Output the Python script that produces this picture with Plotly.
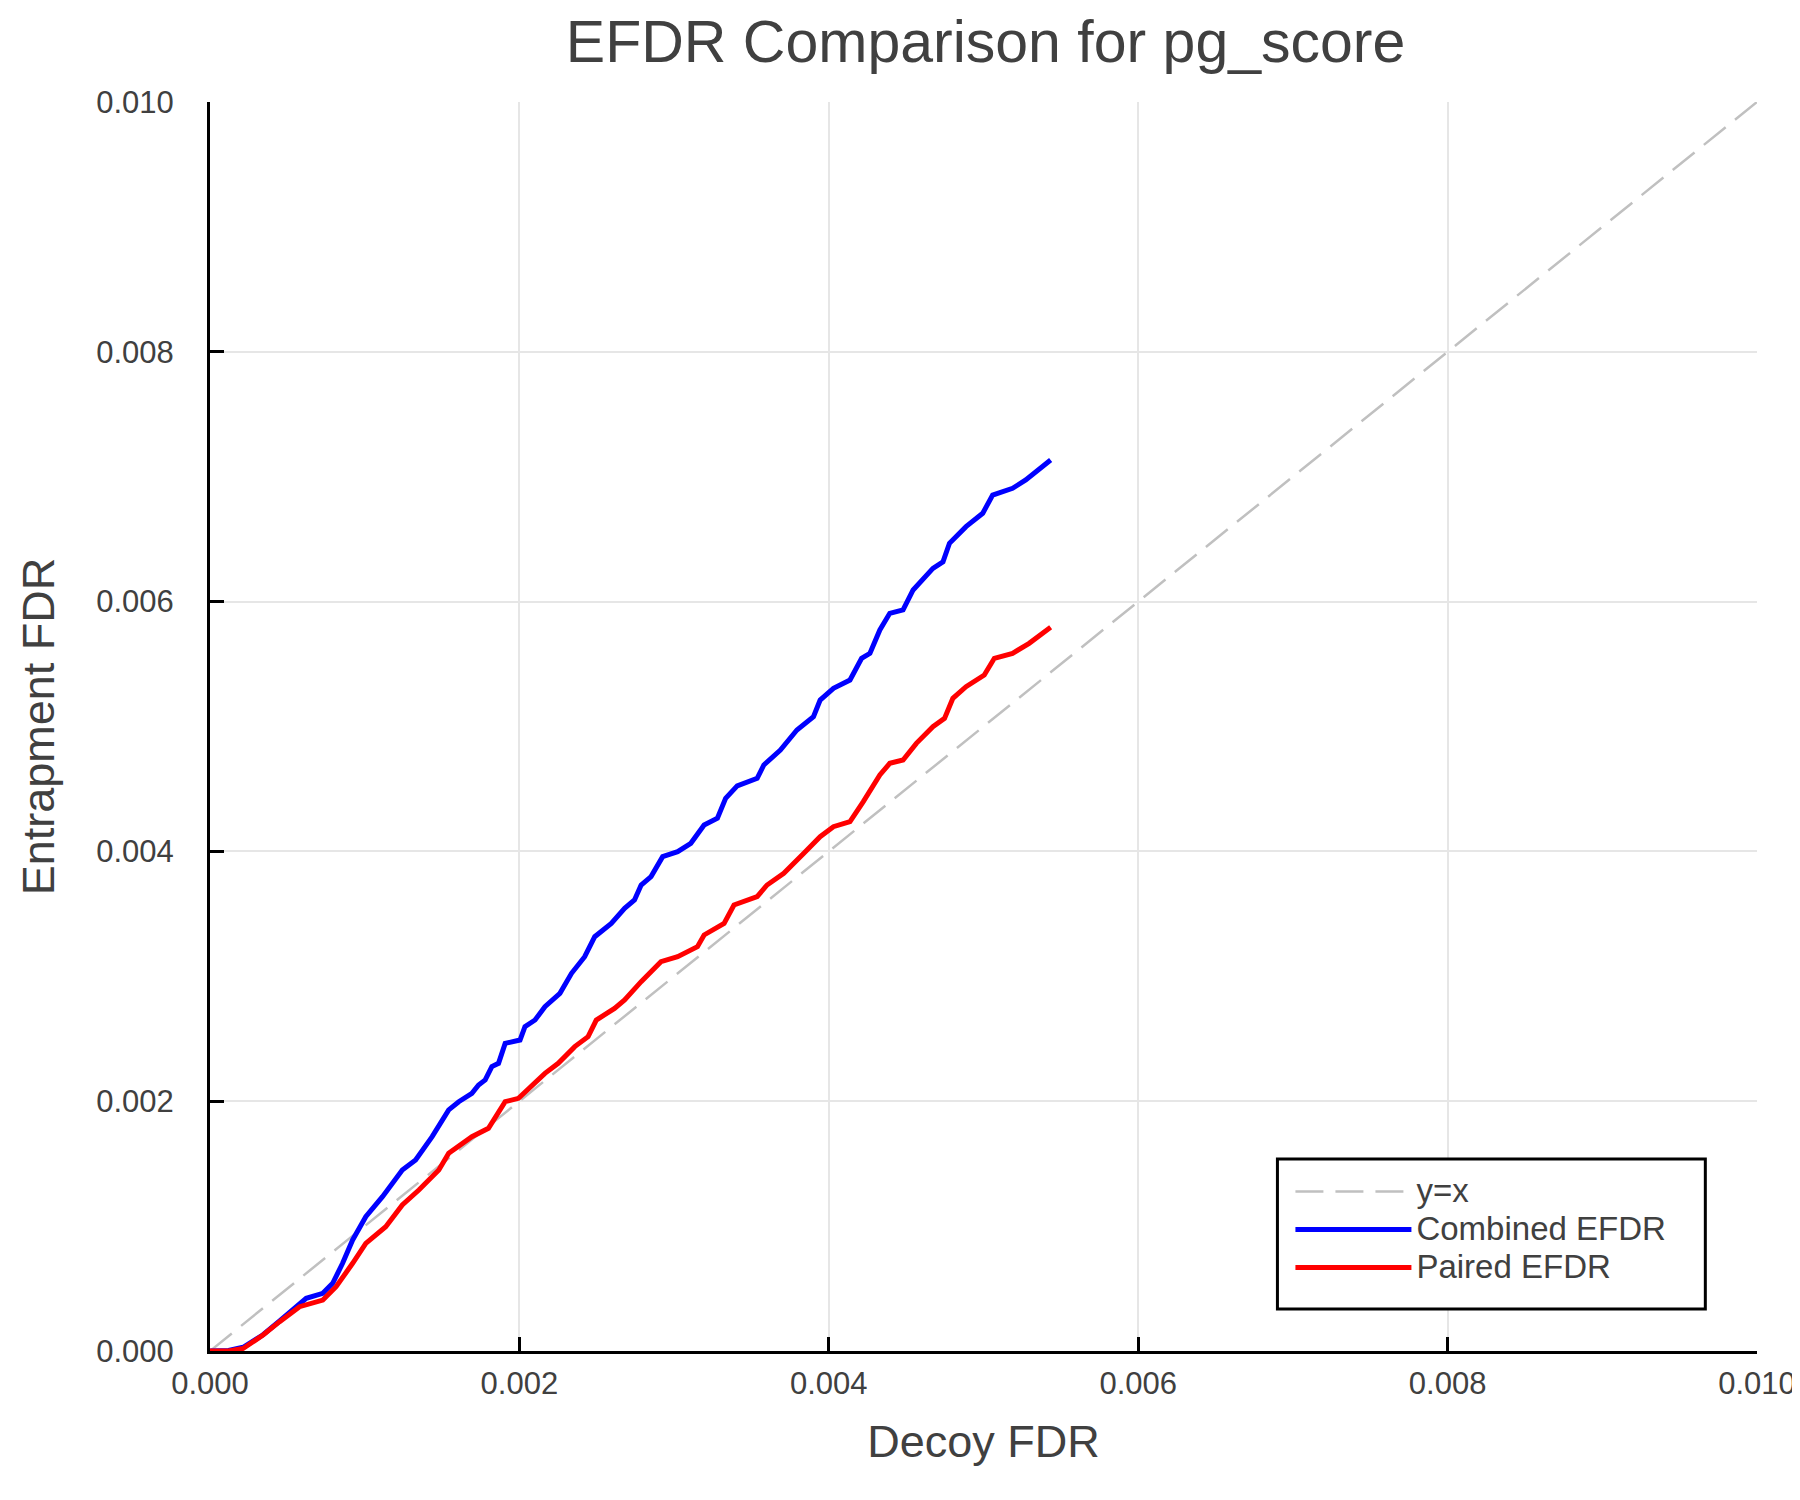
import plotly.graph_objects as go

# values
diag = [0.0, 0.010]

combined_x = [0.0, 0.00012, 0.000214, 0.000343, 0.00045, 0.000579, 0.000622, 0.000729, 0.000793,
              0.000857, 0.000922, 0.001007, 0.001115, 0.001243, 0.001329, 0.001436, 0.001543, 0.001608,
              0.001693, 0.001736, 0.001779, 0.001822, 0.001865, 0.001908, 0.002004, 0.002036, 0.002101,
              0.002165, 0.002262, 0.002337, 0.002422, 0.002487, 0.002594, 0.00268, 0.002744, 0.002787,
              0.002851, 0.002926, 0.003023, 0.003108, 0.003194, 0.00328, 0.003333, 0.003408, 0.003537,
              0.00358, 0.003687, 0.003794, 0.003901, 0.003944, 0.00403, 0.004137, 0.004212, 0.004266,
              0.00433, 0.004394, 0.00448, 0.004545, 0.004673, 0.004738, 0.00478, 0.004887, 0.004995,
              0.005059, 0.005188, 0.005273, 0.005434]
combined_y = [0.0, 0.000005, 0.00003, 0.00013, 0.00024, 0.000382, 0.000422, 0.000462, 0.000542,
              0.000702, 0.000889, 0.001075, 0.001236, 0.001449, 0.001529, 0.001716, 0.00193, 0.001996,
              0.002063, 0.00213, 0.00217, 0.002277, 0.002303, 0.002463, 0.00249, 0.002597, 0.00265,
              0.002757, 0.002864, 0.003024, 0.003157, 0.003317, 0.003424, 0.003544, 0.003611, 0.003731,
              0.003798, 0.003958, 0.003998, 0.004065, 0.004211, 0.004265, 0.004425, 0.004525, 0.004585,
              0.004692, 0.004812, 0.004972, 0.005079, 0.005212, 0.005306, 0.005372, 0.005546, 0.005586,
              0.005773, 0.005906, 0.005933, 0.006093, 0.006266, 0.006319, 0.006467, 0.0066, 0.006707,
              0.006853, 0.006907, 0.006974, 0.007134]

paired_x = [0.0, 0.00012, 0.000214, 0.000343, 0.00045, 0.000579, 0.000729, 0.000815, 0.000922,
            0.001007, 0.001136, 0.001243, 0.00135, 0.001479, 0.001543, 0.001693, 0.0018, 0.001908,
            0.001994, 0.002079, 0.002165, 0.002251, 0.002358, 0.002444, 0.002497, 0.002615, 0.00268,
            0.002787, 0.002915, 0.003023, 0.003151, 0.003194, 0.003323, 0.003387, 0.003537, 0.003601,
            0.003709, 0.003837, 0.003944, 0.00403, 0.004137, 0.004223, 0.00433, 0.004394, 0.00448,
            0.004566, 0.004673, 0.004748, 0.004802, 0.004887, 0.005005, 0.00507, 0.005188, 0.005295,
            0.005434]
paired_y = [0.0, 0.0, 0.00002, 0.000128, 0.000235, 0.000355, 0.000408, 0.000515, 0.000702,
            0.000862, 0.000995, 0.001169, 0.001289, 0.001449, 0.001583, 0.001716, 0.001783, 0.001996,
            0.002023, 0.002116, 0.002223, 0.002303, 0.002437, 0.002517, 0.00265, 0.002743, 0.00281,
            0.002957, 0.003117, 0.003157, 0.003237, 0.003331, 0.003424, 0.003571, 0.003638, 0.003731,
            0.003824, 0.003984, 0.004118, 0.004198, 0.004238, 0.004398, 0.004612, 0.004705, 0.004732,
            0.004865, 0.004999, 0.005065, 0.005226, 0.005319, 0.005412, 0.005546, 0.005586, 0.005666,
            0.005794]

tick_vals = [0.0, 0.002, 0.004, 0.006, 0.008, 0.010]

FONT = "Liberation Sans"
TXT = "#404040"


def leg(name):
    # legend text drawn a bit larger than the legend font so the rows stay tight
    return "<span style='font-size:33px'>" + name + "</span>"


fig = go.Figure()
fig.add_trace(go.Scatter(x=diag, y=diag, mode="lines", name=leg("y=x"),
                         line=dict(color="#c0c0c0", width=2.5, dash="28px,12px")))
fig.add_trace(go.Scatter(x=combined_x, y=combined_y, mode="lines", name=leg("Combined EFDR"),
                         line=dict(color="#0000ff", width=5)))
fig.add_trace(go.Scatter(x=paired_x, y=paired_y, mode="lines", name=leg("Paired EFDR"),
                         line=dict(color="#ff0000", width=5)))

axis_common = dict(
    range=[0, 0.010], tickvals=tick_vals, tickformat=".3f",
    showline=True, linecolor="black", linewidth=3,
    ticks="inside", ticklen=14, tickwidth=3, tickcolor="black",
    showgrid=True, gridcolor="#e6e6e6", gridwidth=1.5, zeroline=False,
    tickfont=dict(family=FONT, size=31, color=TXT),
    ticklabeloverflow="allow",
)

# legend frame
fig.add_shape(type="rect", xref="paper", yref="paper", x0=0.6900, x1=0.9666, y0=0.0336, y1=0.1537,
              line=dict(color="black", width=3), fillcolor="white", layer="above")

fig.update_layout(
    width=1800, height=1500,
    margin=dict(l=202, r=43, t=94, b=157),
    plot_bgcolor="white", paper_bgcolor="white",
    title=dict(text="EFDR Comparison for pg_score", x=0.5431, xanchor="center",
               y=0.9777, yanchor="middle", font=dict(family=FONT, size=59, color=TXT)),
    xaxis=dict(axis_common, ticklabelstandoff=3,
               title=dict(text="Decoy FDR", standoff=26,
                          font=dict(family=FONT, size=45, color=TXT))),
    yaxis=dict(axis_common, ticklabelstandoff=27,
               title=dict(text="Entrapment FDR", standoff=28,
                          font=dict(family=FONT, size=45, color=TXT))),
    legend=dict(x=0.6984, y=0.097, xanchor="left", yanchor="middle",
                bgcolor="rgba(0,0,0,0)", borderwidth=0,
                font=dict(family=FONT, size=27, color=TXT),
                itemwidth=116, tracegroupgap=0),
    showlegend=True,
)

fig.write_html("out.html")
